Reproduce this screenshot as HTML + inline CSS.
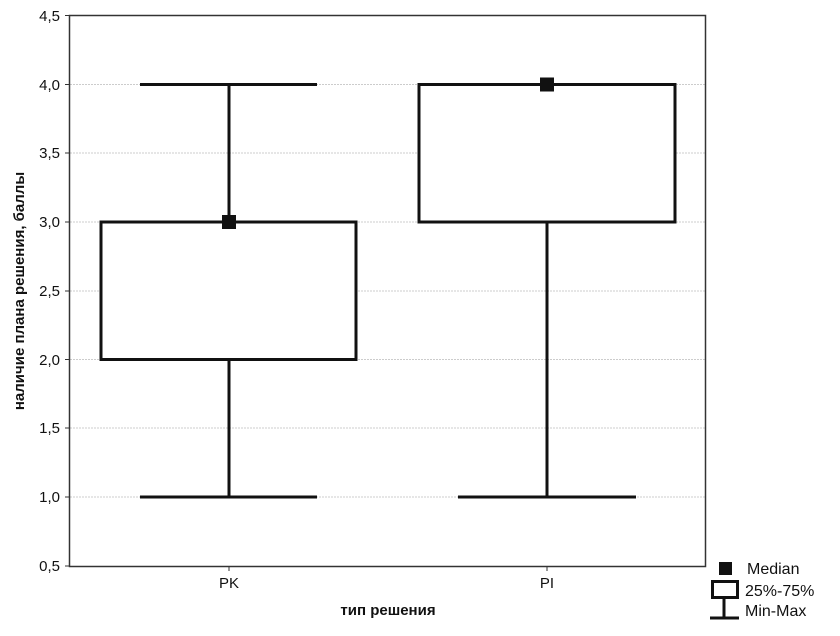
<!DOCTYPE html><html><head><style>body{margin:0;background:#fff}</style></head><body>
<svg width="840" height="631" xmlns="http://www.w3.org/2000/svg" font-family="Liberation Sans, Arial, sans-serif">
<rect width="840" height="631" fill="#fff"/>
<g stroke="#ccc" stroke-width="1" stroke-dasharray="2,1">
<line x1="70" x2="706" y1="84.5" y2="84.5"/><line x1="70" x2="706" y1="153" y2="153"/><line x1="70" x2="706" y1="222" y2="222"/><line x1="70" x2="706" y1="291" y2="291"/><line x1="70" x2="706" y1="359.5" y2="359.5"/><line x1="70" x2="706" y1="428" y2="428"/><line x1="70" x2="706" y1="497" y2="497"/></g>
<rect x="69.5" y="15.5" width="636" height="551" fill="none" stroke="#333" stroke-width="1.5"/>
<g stroke="#333" stroke-width="1"><line x1="65" x2="70" y1="15.5" y2="15.5"/><line x1="65" x2="70" y1="84.5" y2="84.5"/><line x1="65" x2="70" y1="153" y2="153"/><line x1="65" x2="70" y1="222" y2="222"/><line x1="65" x2="70" y1="291" y2="291"/><line x1="65" x2="70" y1="359.5" y2="359.5"/><line x1="65" x2="70" y1="428" y2="428"/><line x1="65" x2="70" y1="497" y2="497"/><line x1="65" x2="70" y1="566" y2="566"/><line x1="229" x2="229" y1="566" y2="571"/><line x1="547" x2="547" y1="566" y2="571"/></g>
<g font-size="15" fill="#111" text-anchor="end">
<text x="60" y="21">4,5</text><text x="60" y="90">4,0</text><text x="60" y="158">3,5</text><text x="60" y="227">3,0</text><text x="60" y="296">2,5</text><text x="60" y="365">2,0</text><text x="60" y="433">1,5</text><text x="60" y="502">1,0</text><text x="60" y="571">0,5</text></g>
<g font-size="15" fill="#111" text-anchor="middle"><text x="229" y="588">PK</text><text x="547" y="588">PI</text>
<text x="388" y="615" font-weight="bold">тип решения</text>
<text transform="translate(24,291) rotate(-90)" font-weight="bold">наличие плана решения, баллы</text></g>
<g stroke="#111" stroke-width="3" fill="none">
<line x1="229" x2="229" y1="84.5" y2="222"/><line x1="229" x2="229" y1="359.5" y2="497"/>
<line x1="140" x2="317" y1="84.5" y2="84.5"/><line x1="140" x2="317" y1="497" y2="497"/>
<rect x="101" y="222" width="255" height="137.5" fill="#fff"/>
<line x1="547" x2="547" y1="222" y2="497"/>
<line x1="458" x2="636" y1="497" y2="497"/>
<rect x="419" y="84.5" width="256" height="137.5" fill="#fff"/>
</g>
<rect x="222" y="215" width="14" height="14" fill="#111"/>
<rect x="540" y="77.5" width="14" height="14" fill="#111"/>
<rect x="719" y="562" width="13" height="13" fill="#111"/>
<rect x="712.5" y="581.5" width="25" height="16" fill="#fff" stroke="#111" stroke-width="3"/>
<line x1="724" x2="724" y1="598" y2="617" stroke="#111" stroke-width="3"/>
<line x1="710" x2="739" y1="618" y2="618" stroke="#111" stroke-width="3"/>
<g font-size="16" fill="#111"><text x="747" y="574">Median</text><text x="745" y="596">25%-75%</text><text x="745" y="616">Min-Max</text></g>
</svg></body></html>
